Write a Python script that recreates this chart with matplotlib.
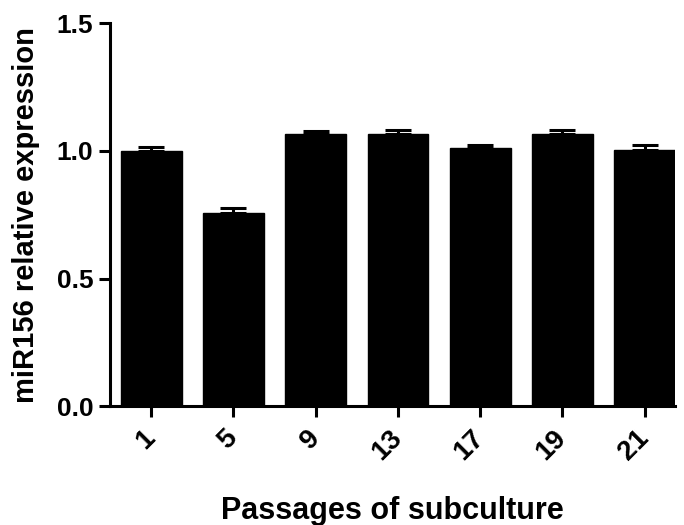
import matplotlib
matplotlib.use('Agg')
import matplotlib.pyplot as plt

# passages and their expression values
passages = ['1', '5', '9', '13', '17', '19', '21']
expression = [1.0, 0.755, 1.065, 1.065, 1.012, 1.065, 1.003]
errors = [0.015, 0.02, 0.012, 0.015, 0.01, 0.015, 0.02]

plt.rcParams['font.family'] = ['Arial', 'Liberation Sans', 'DejaVu Sans']
plt.rcParams['font.weight'] = 'bold'

fig = plt.figure(figsize=(6.84, 5.25), dpi=100)
ax = fig.add_axes([0.161, 0.226, 0.826, 0.730])

xs = list(range(len(passages)))
ax.bar(xs, expression, width=0.74, color='black', edgecolor='black', linewidth=1)
ax.errorbar(xs, expression, yerr=[[0] * len(errors), errors], fmt='none',
            ecolor='black', elinewidth=2.2, capsize=9.5, capthick=2.2)

ax.set_xlim(-0.5, 6.37)
ax.set_ylim(0, 1.5)
ax.set_yticks([0.0, 0.5, 1.0, 1.5])
ax.set_yticklabels(['0.0', '0.5', '1.0', '1.5'])
ax.set_xticks(xs)
ax.set_xticklabels(passages, rotation=45, ha='right', va='center',
                   rotation_mode='anchor')

for side in ['top', 'right']:
    ax.spines[side].set_visible(False)
for side in ['left', 'bottom']:
    ax.spines[side].set_linewidth(2.2)

ax.tick_params(axis='both', width=2.2, length=8, pad=4)
ax.tick_params(axis='y', labelsize=19)
ax.tick_params(axis='x', labelsize=20, pad=12)
for lbl in ax.get_xticklabels() + ax.get_yticklabels():
    lbl.set_fontweight('bold')

ax.set_ylabel('miR156 relative expression', fontsize=21, fontweight='bold', labelpad=12)
ax.set_xlabel('Passages of subculture', fontsize=22, fontweight='bold', labelpad=22)

fig.savefig('out.png', dpi=100)
